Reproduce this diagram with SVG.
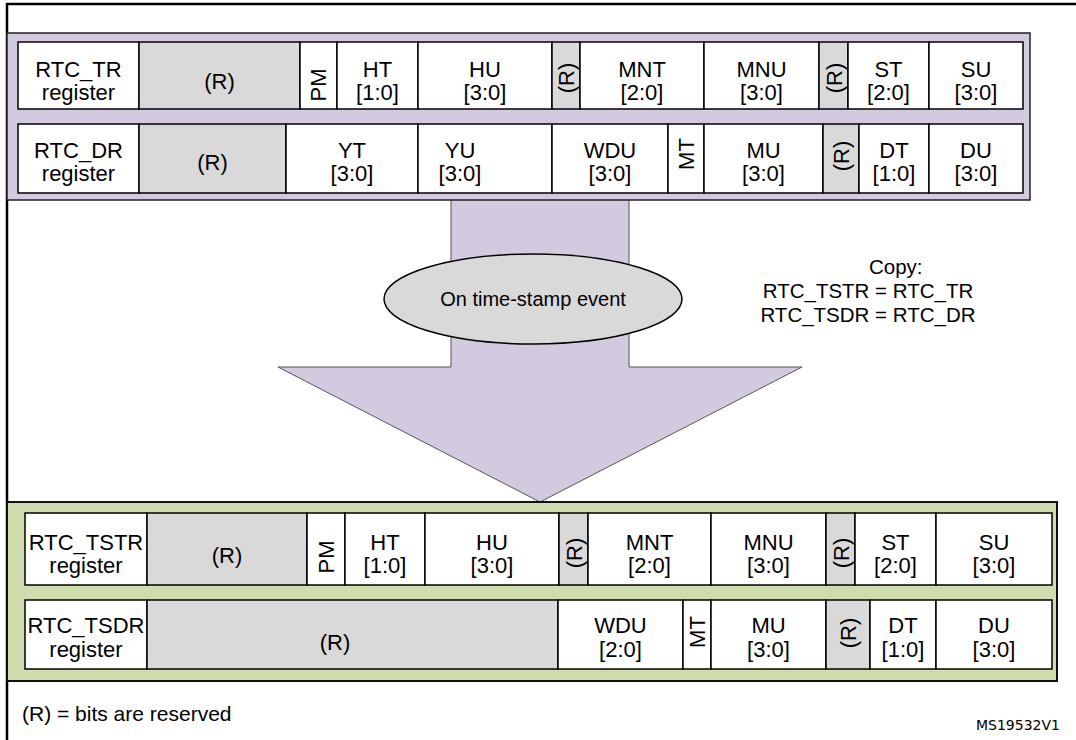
<svg xmlns="http://www.w3.org/2000/svg" width="1076" height="740" viewBox="0 0 1076 740">
<style>
.t{font-family:"Liberation Sans",Arial,sans-serif;font-size:22px;fill:#000;text-anchor:middle}
.n{font-family:"Liberation Sans",Arial,sans-serif;font-size:20.5px;fill:#000;text-anchor:middle}
.c{fill:#fff;stroke:#000;stroke-width:1.5}
.g{fill:#d9d9d9;stroke:#000;stroke-width:1.5}
.band1{fill:#d3cae0;stroke:#222;stroke-width:1.5}
.band2{fill:#cfdcad;stroke:#111;stroke-width:2}
</style>
<rect width="1076" height="740" fill="#fff"/>
<g id="connectors">
<polygon points="451,200 629,200 629,367 802,367 540,502 278,367 451,367" fill="#d3cae0"/>
<path d="M451,200 V367 H278 L540,502 L802,367 H629 V200" fill="none" stroke="#555" stroke-width="1"/>
</g>
<path id="frame" d="M7,740 V4 H1076" fill="none" stroke="#000" stroke-width="2.5"/>
<g id="band-top">
<rect class="band1" x="7" y="33" width="1023" height="167"/>
</g>
<g id="rtc_tr">
<rect class="c" x="18" y="42" width="121" height="67"/>
<text class="t" x="78.5" y="77">RTC_TR</text><text class="t" x="78.5" y="100">register</text>
<rect class="g" x="139" y="42" width="161" height="67"/><text class="t" x="219.5" y="89">(R)</text>
<rect class="c" x="300" y="42" width="37" height="67"/><text class="t" transform="translate(326,85) rotate(-90)">PM</text>
<rect class="c" x="337" y="42" width="81" height="67"/><text class="t" x="377.5" y="77">HT</text><text class="t" x="377.5" y="100">[1:0]</text>
<rect class="c" x="418" y="42" width="134" height="67"/><text class="t" x="485" y="77">HU</text><text class="t" x="485" y="100">[3:0]</text>
<rect class="g" x="552" y="42" width="28" height="67"/><text class="t" transform="translate(574,78) rotate(-90)">(R)</text>
<rect class="c" x="580" y="42" width="124" height="67"/><text class="t" x="642" y="77">MNT</text><text class="t" x="642" y="100">[2:0]</text>
<rect class="c" x="704" y="42" width="115" height="67"/><text class="t" x="761.5" y="77">MNU</text><text class="t" x="761.5" y="100">[3:0]</text>
<rect class="g" x="819" y="42" width="29" height="67"/><text class="t" transform="translate(842,78) rotate(-90)">(R)</text>
<rect class="c" x="848" y="42" width="81" height="67"/><text class="t" x="888.5" y="77">ST</text><text class="t" x="888.5" y="100">[2:0]</text>
<rect class="c" x="929" y="42" width="94" height="67"/><text class="t" x="976" y="77">SU</text><text class="t" x="976" y="100">[3:0]</text>
</g>
<g id="rtc_dr">
<rect class="c" x="18" y="124" width="121" height="69"/>
<text class="t" x="78.5" y="158">RTC_DR</text><text class="t" x="78.5" y="181">register</text>
<rect class="g" x="139" y="124" width="147" height="69"/><text class="t" x="212.5" y="170">(R)</text>
<rect class="c" x="286" y="124" width="132" height="69"/><text class="t" x="352" y="158">YT</text><text class="t" x="352" y="181">[3:0]</text>
<rect class="c" x="418" y="124" width="134" height="69"/><text class="t" x="460" y="158">YU</text><text class="t" x="460" y="181">[3:0]</text>
<rect class="c" x="552" y="124" width="116" height="69"/><text class="t" x="610" y="158">WDU</text><text class="t" x="610" y="181">[3:0]</text>
<rect class="c" x="668" y="124" width="36" height="69"/><text class="t" transform="translate(694,154) rotate(-90)">MT</text>
<rect class="c" x="704" y="124" width="119" height="69"/><text class="t" x="763.5" y="158">MU</text><text class="t" x="763.5" y="181">[3:0]</text>
<rect class="g" x="823" y="124" width="36" height="69"/><text class="t" transform="translate(849,156) rotate(-90)">(R)</text>
<rect class="c" x="859" y="124" width="70" height="69"/><text class="t" x="894" y="158">DT</text><text class="t" x="894" y="181">[1:0]</text>
<rect class="c" x="929" y="124" width="94" height="69"/><text class="t" x="976" y="158">DU</text><text class="t" x="976" y="181">[3:0]</text>
</g>
<g id="event">
<ellipse cx="533" cy="299" rx="149" ry="45" fill="#d9d9d9" stroke="#000" stroke-width="1.5"/>
<text class="t" x="533" y="306" style="font-size:20px">On time-stamp event</text>
</g>
<g id="copy-note">
<text class="n" x="869" y="274" style="text-anchor:start">Copy:</text>
<text class="n" x="868" y="298">RTC_TSTR = RTC_TR</text>
<text class="n" x="868" y="322">RTC_TSDR = RTC_DR</text>
</g>
<g id="band-bottom">
<rect class="band2" x="7" y="502" width="1050" height="179"/>
</g>
<g id="rtc_tstr">
<rect class="c" x="25" y="513" width="122" height="72"/>
<text class="t" x="86" y="550">RTC_TSTR</text><text class="t" x="86" y="573">register</text>
<rect class="g" x="147" y="513" width="160" height="72"/><text class="t" x="227" y="563">(R)</text>
<rect class="c" x="307" y="513" width="38" height="72"/><text class="t" transform="translate(334,557) rotate(-90)">PM</text>
<rect class="c" x="345" y="513" width="80" height="72"/><text class="t" x="385" y="550">HT</text><text class="t" x="385" y="573">[1:0]</text>
<rect class="c" x="425" y="513" width="134" height="72"/><text class="t" x="492" y="550">HU</text><text class="t" x="492" y="573">[3:0]</text>
<rect class="g" x="559" y="513" width="29" height="72"/><text class="t" transform="translate(582,553) rotate(-90)">(R)</text>
<rect class="c" x="588" y="513" width="123" height="72"/><text class="t" x="649.5" y="550">MNT</text><text class="t" x="649.5" y="573">[2:0]</text>
<rect class="c" x="711" y="513" width="115" height="72"/><text class="t" x="768.5" y="550">MNU</text><text class="t" x="768.5" y="573">[3:0]</text>
<rect class="g" x="826" y="513" width="29" height="72"/><text class="t" transform="translate(849,553) rotate(-90)">(R)</text>
<rect class="c" x="855" y="513" width="81" height="72"/><text class="t" x="895.5" y="550">ST</text><text class="t" x="895.5" y="573">[2:0]</text>
<rect class="c" x="936" y="513" width="116" height="72"/><text class="t" x="994" y="550">SU</text><text class="t" x="994" y="573">[3:0]</text>
</g>
<g id="rtc_tsdr">
<rect class="c" x="25" y="600" width="122" height="69"/>
<text class="t" x="86" y="633">RTC_TSDR</text><text class="t" x="86" y="657">register</text>
<rect class="g" x="147" y="600" width="411" height="69"/><text class="t" x="335" y="650">(R)</text>
<rect class="c" x="558" y="600" width="125" height="69"/><text class="t" x="620.5" y="633">WDU</text><text class="t" x="620.5" y="657">[2:0]</text>
<rect class="c" x="683" y="600" width="28" height="69"/><text class="t" transform="translate(705,632) rotate(-90)">MT</text>
<rect class="c" x="711" y="600" width="115" height="69"/><text class="t" x="768.5" y="633">MU</text><text class="t" x="768.5" y="657">[3:0]</text>
<rect class="g" x="826" y="600" width="44" height="69"/><text class="t" transform="translate(856,633) rotate(-90)">(R)</text>
<rect class="c" x="870" y="600" width="66" height="69"/><text class="t" x="903" y="633">DT</text><text class="t" x="903" y="657">[1:0]</text>
<rect class="c" x="936" y="600" width="116" height="69"/><text class="t" x="994" y="633">DU</text><text class="t" x="994" y="657">[3:0]</text>
</g>
<g id="footer">
<text class="t" x="22" y="721" style="text-anchor:start;font-size:21px">(R) = bits are reserved</text>
<text x="1060" y="730" style="font-family:'DejaVu Sans',Verdana,sans-serif;font-size:14px;text-anchor:end">MS19532V1</text>
</g>
</svg>
